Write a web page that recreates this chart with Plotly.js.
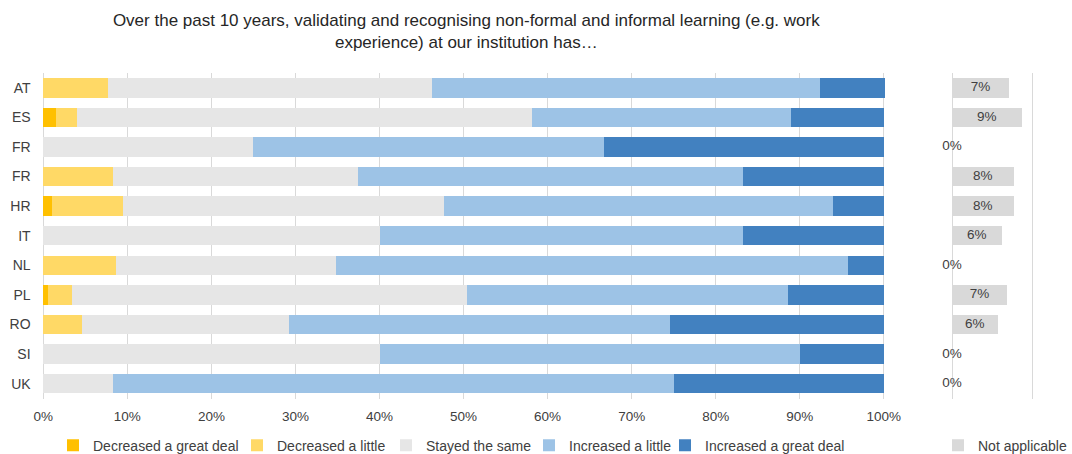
<!DOCTYPE html>
<html>
<head>
<meta charset="utf-8">
<script src="https://cdn.plot.ly/plotly-3.0.1.min.js"></script>
<style>html,body{margin:0;padding:0;background:#fff;}#chart{width:1072px;height:454px;}</style>
</head>
<body>
<div id="chart"></div>
<script>
// ---- data (percent of respondents) ----
var countries = ['AT', 'ES', 'FR', 'FR', 'HR', 'IT', 'NL', 'PL', 'RO', 'SI', 'UK'];
var decreasedGreatDeal = [0, 1.5, 0, 0, 1.0, 0, 0, 0.6, 0, 0, 0];
var decreasedLittle    = [7.7, 2.5, 0, 8.3, 8.5, 0, 8.7, 2.8, 4.6, 0, 0];
var stayedSame         = [38.5, 54.2, 25.0, 29.2, 38.2, 40.0, 26.1, 47.0, 24.6, 40.0, 8.3];
var increasedLittle    = [46.2, 30.7, 41.7, 45.8, 46.2, 43.3, 60.9, 38.2, 45.4, 50.0, 66.7];
var increasedGreatDeal = [7.7, 11.1, 33.3, 16.7, 6.1, 16.7, 4.3, 11.4, 25.4, 10.0, 25.0];
var notApplicable      = [7.1, 8.7, 0, 7.7, 7.7, 6.2, 0, 6.9, 5.7, 0, 0];
var seriesNames = ['Decreased a great deal', 'Decreased a little', 'Stayed the same', 'Increased a little', 'Increased a great deal'];
var xTickValues = [0, 10, 20, 30, 40, 50, 60, 70, 80, 90, 100];
var xTickLabels = ['0%', '10%', '20%', '30%', '40%', '50%', '60%', '70%', '80%', '90%', '100%'];
var titleText = 'Over the past 10 years, validating and recognising non-formal and informal learning (e.g. work<br>experience) at our institution has…';

// ---- build ----
var rowIndex = countries.map(function (c, i) { return i; });
var seriesValues = [decreasedGreatDeal, decreasedLittle, stayedSame, increasedLittle, increasedGreatDeal];
var seriesColors = ['#FFC000', '#FFD966', '#E6E6E6', '#9DC3E6', '#4281C0'];
var legendIds = ['legend', 'legend2', 'legend3', 'legend4', 'legend5'];
var legendX = [0.04944, 0.22108, 0.36007, 0.49347, 0.62034];
var fontFam = 'Liberation Sans, Arial, sans-serif';

var traces = seriesValues.map(function (vals, k) {
  return {
    type: 'bar', orientation: 'h',
    x: vals, y: rowIndex,
    name: seriesNames[k],
    marker: { color: seriesColors[k], line: { width: 0 } },
    xaxis: 'x', yaxis: 'y',
    legend: legendIds[k],
    hoverinfo: 'skip'
  };
});

traces.push({
  type: 'bar', orientation: 'h',
  x: notApplicable, y: rowIndex,
  name: 'Not applicable',
  marker: { color: '#D9D9D9', line: { width: 0 } },
  xaxis: 'x2', yaxis: 'y2',
  legend: 'legend6',
  hoverinfo: 'skip'
});

traces.push({
  type: 'scatter', mode: 'text',
  x: notApplicable.map(function (v) { return v / 2; }), y: rowIndex,
  text: notApplicable.map(function (v) { return Math.round(v) + '%'; }),
  textposition: 'middle center',
  textfont: { family: fontFam, size: 13.5, color: '#404040' },
  xaxis: 'x2', yaxis: 'y2',
  showlegend: false, cliponaxis: false, hoverinfo: 'skip'
});

var layout = {
  width: 1072, height: 454,
  margin: { l: 0, r: 0, t: 0, b: 0, autoexpand: false },
  paper_bgcolor: '#ffffff', plot_bgcolor: 'rgba(0,0,0,0)',
  font: { family: fontFam, size: 13.5, color: '#404040' },
  barmode: 'stack', bargap: 0.344,
  title: {
    text: titleText,
    font: { family: fontFam, size: 17, color: '#262626' },
    x: 0.435, xanchor: 'center', xref: 'paper',
    y: 0.942, yanchor: 'top', yref: 'container'
  },
  xaxis: {
    domain: [0.03881, 0.82603], range: [-0.2, 100.2],
    tickmode: 'array', tickvals: xTickValues, ticktext: xTickLabels,
    showgrid: true, gridcolor: '#D9D9D9', gridwidth: 1,
    zeroline: false, showline: false, ticks: '',
    ticklabelstandoff: 8,
    tickfont: { family: fontFam, size: 13.5, color: '#404040' },
    fixedrange: true, anchor: 'y'
  },
  yaxis: {
    domain: [0.1222, 0.8392], range: [10.5, -0.5],
    tickmode: 'array', tickvals: rowIndex, ticktext: countries,
    showgrid: false, zeroline: false, showline: false, ticks: '',
    ticklabelstandoff: 10,
    tickfont: { family: fontFam, size: 14, color: '#404040' },
    fixedrange: true, anchor: 'x'
  },
  xaxis2: {
    domain: [0.88657, 0.96418], range: [-0.2, 10.2],
    tickmode: 'array', tickvals: [0, 10],
    showticklabels: false, showgrid: true, gridcolor: '#D9D9D9', gridwidth: 1,
    zeroline: false, showline: false, ticks: '',
    fixedrange: true, anchor: 'y2'
  },
  yaxis2: {
    domain: [0.1222, 0.8392], range: [10.5, -0.5],
    showticklabels: false, showgrid: false, zeroline: false, showline: false,
    fixedrange: true, anchor: 'x2'
  },
  showlegend: true
};

var legendStyle = function (xPos) {
  return {
    orientation: 'h', x: xPos, xanchor: 'left', y: -0.017, yanchor: 'bottom',
    font: { family: fontFam, size: 14, color: '#404040' },
    bgcolor: 'rgba(0,0,0,0)'
  };
};
legendIds.forEach(function (id, k) { layout[id] = legendStyle(legendX[k]); });
layout.legend6 = legendStyle(0.8750);

Plotly.newPlot('chart', traces, layout, { displayModeBar: false, staticPlot: true });
</script>
</body>
</html>
